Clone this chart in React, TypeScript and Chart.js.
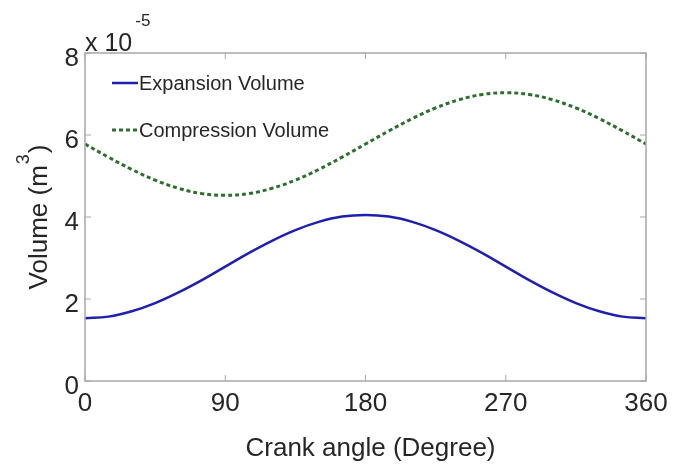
import React, { useEffect, useRef } from "react";
import { Chart, registerables } from "chart.js";

Chart.register(...registerables);

const angles = [0, 15, 30, 45, 60, 75, 90, 105, 120, 135, 150, 165, 180, 195, 210, 225, 240, 255, 270, 285, 300, 315, 330, 345, 360];
const expansionVolume = [1.53, 1.57, 1.70, 1.90, 2.16, 2.46, 2.79, 3.12, 3.42, 3.68, 3.88, 4.01, 4.05, 4.01, 3.88, 3.68, 3.42, 3.12, 2.79, 2.46, 2.16, 1.90, 1.70, 1.57, 1.53];
const compressionVolume = [5.78, 5.46, 5.16, 4.90, 4.70, 4.57, 4.53, 4.57, 4.70, 4.90, 5.16, 5.46, 5.78, 6.10, 6.40, 6.66, 6.86, 6.99, 7.03, 6.99, 6.86, 6.66, 6.40, 6.10, 5.78];
const xTicks = [0, 90, 180, 270, 360];
const yTicks = [0, 2, 4, 6, 8];
const seriesNames = ["Expansion Volume", "Compression Volume"];
const xTitle = "Crank angle (Degree)";
const yTitleMain = "Volume (m";
const yTitleSup = "3";
const yTitleEnd = ")";
const exponentBase = "x 10";
const exponentSup = "-5";

const FONT = "'Liberation Sans', Arial, sans-serif";
const TEXT = "#262626";
const BOX = "#a8a8a8";

const decorPlugin = {
  id: "decor",
  afterDraw(chart: any) {
    const ctx = chart.ctx as CanvasRenderingContext2D;
    const { left, right, top, bottom } = chart.chartArea;
    const xs = chart.scales.x;
    const ys = chart.scales.y;
    ctx.save();
    // box
    ctx.strokeStyle = BOX;
    ctx.lineWidth = 1.5;
    ctx.strokeRect(left, top, right - left, bottom - top);
    // inside ticks
    ctx.lineWidth = 1;
    ctx.beginPath();
    xTicks.forEach((t) => {
      const px = xs.getPixelForValue(t);
      ctx.moveTo(px, bottom);
      ctx.lineTo(px, bottom - 6);
      ctx.moveTo(px, top);
      ctx.lineTo(px, top + 6);
    });
    yTicks.forEach((t) => {
      const py = ys.getPixelForValue(t);
      ctx.moveTo(left, py);
      ctx.lineTo(left + 6, py);
      ctx.moveTo(right, py);
      ctx.lineTo(right - 6, py);
    });
    ctx.stroke();

    ctx.fillStyle = TEXT;
    // x title
    ctx.font = `26px ${FONT}`;
    ctx.textAlign = "center";
    ctx.textBaseline = "alphabetic";
    ctx.fillText(xTitle, (left + right) / 2 + 5, 456);

    // y title rotated with superscript
    ctx.save();
    ctx.translate(47, (top + bottom) / 2);
    ctx.rotate(-Math.PI / 2);
    ctx.font = `26px ${FONT}`;
    const w1 = ctx.measureText(yTitleMain).width;
    ctx.font = `18px ${FONT}`;
    const w2 = ctx.measureText(yTitleSup).width;
    ctx.font = `26px ${FONT}`;
    const w3 = ctx.measureText(yTitleEnd).width;
    const total = w1 + w2 + w3 + 2;
    let cx = -total / 2;
    ctx.textAlign = "left";
    ctx.fillText(yTitleMain, cx, 0);
    cx += w1 + 1;
    ctx.font = `18px ${FONT}`;
    ctx.fillText(yTitleSup, cx, -18);
    cx += w2 + 1;
    ctx.font = `26px ${FONT}`;
    ctx.fillText(yTitleEnd, cx, 0);
    ctx.restore();

    // exponent label
    ctx.textAlign = "left";
    ctx.font = `25px ${FONT}`;
    ctx.fillText(exponentBase, left, 51);
    const wb = ctx.measureText(exponentBase).width;
    ctx.font = `17px ${FONT}`;
    ctx.fillText(exponentSup, left + wb + 3, 26);

    // legend
    const ds = chart.data.datasets;
    const rows = [83, 130];
    ds.forEach((d: any, i: number) => {
      const y = rows[i];
      ctx.strokeStyle = d.borderColor;
      ctx.lineWidth = d.borderWidth;
      ctx.setLineDash(d.borderDash || []);
      ctx.beginPath();
      ctx.moveTo(112, y);
      ctx.lineTo(138, y);
      ctx.stroke();
      ctx.setLineDash([]);
      ctx.fillStyle = TEXT;
      ctx.font = `20px ${FONT}`;
      ctx.textBaseline = "middle";
      ctx.fillText(seriesNames[i], 139, y + 1);
    });
    ctx.restore();
  },
};

export default function App() {
  const ref = useRef<HTMLCanvasElement>(null);
  useEffect(() => {
    document.body.style.margin = "0";
    const chart = new Chart(ref.current!, {
      type: "line",
      data: {
        labels: angles,
        datasets: [
          {
            label: seriesNames[0],
            data: angles.map((a, i) => ({ x: a, y: expansionVolume[i] })),
            borderColor: "#1f1fae",
            borderWidth: 2.5,
            pointRadius: 0,
            tension: 0.4,
            fill: false,
          },
          {
            label: seriesNames[1],
            data: angles.map((a, i) => ({ x: a, y: compressionVolume[i] })),
            borderColor: "#2f6e2f",
            borderWidth: 3,
            borderDash: [4, 3],
            pointRadius: 0,
            tension: 0.4,
            fill: false,
          },
        ],
      },
      options: {
        animation: false,
        responsive: false,
        maintainAspectRatio: false,
        layout: { padding: { top: 53, right: 39, left: 0, bottom: 0 } },
        plugins: { legend: { display: false }, tooltip: { enabled: false } },
        scales: {
          x: {
            type: "linear",
            min: 0,
            max: 360,
            afterFit: (s: any) => {
              s.height = 83;
            },
            afterBuildTicks: (s: any) => {
              s.ticks = xTicks.map((v) => ({ value: v }));
            },
            grid: { display: false, drawTicks: false },
            border: { display: false },
            ticks: { color: TEXT, font: { family: FONT, size: 26 }, padding: 7, maxRotation: 0, autoSkip: false },
          },
          y: {
            type: "linear",
            min: 0,
            max: 8,
            afterFit: (s: any) => {
              s.width = 85;
            },
            afterBuildTicks: (s: any) => {
              s.ticks = yTicks.map((v) => ({ value: v }));
            },
            grid: { display: false, drawTicks: false },
            border: { display: false },
            ticks: { color: TEXT, font: { family: FONT, size: 26 }, padding: 6, labelOffset: 6, autoSkip: false },
          },
        },
      },
      plugins: [decorPlugin],
    });
    return () => chart.destroy();
  }, []);
  return <canvas ref={ref} width={685} height={464} style={{ display: "block" }} />;
}
